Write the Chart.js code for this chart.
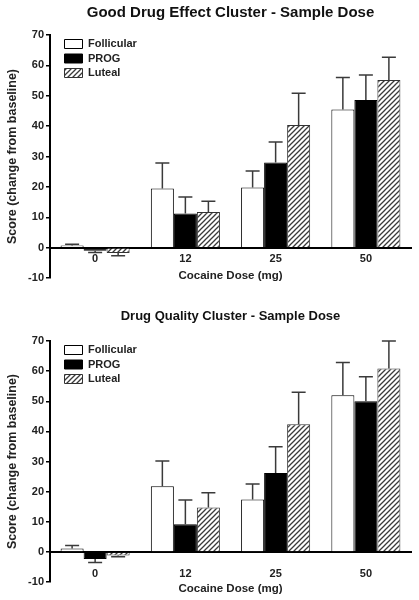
<!DOCTYPE html>
<html>
<head>
<meta charset="utf-8">
<script src="https://cdn.jsdelivr.net/npm/chart.js@4.4.1/dist/chart.umd.min.js"></script>
<style>
	body { margin: 0; background: #fff; }
	canvas { display: block; }
</style>
</head>
<body>
<canvas id="chart-effect" width="419" height="300"></canvas>
<canvas id="chart-quality" width="419" height="300"></canvas>
<script>
const doses = ['0', '12', '25', '50']
const groups = ['Follicular', 'PROG', 'Luteal']
const yTicks = [-10, 0, 10, 20, 30, 40, 50, 60, 70]

// Good Drug Effect cluster (mean, SEM)
const effectFollicular = [0.7, 19.5, 19.8, 45.5]
const effectFollicularSem = [0.4, 8.4, 5.4, 10.5]
const effectProg = [-1.0, 11.2, 28.0, 48.6]
const effectProgSem = [0.6, 5.5, 6.8, 8.2]
const effectLuteal = [-1.8, 11.7, 40.4, 55.2]
const effectLutealSem = [0.9, 3.6, 10.4, 7.5]

// Drug Quality cluster (mean, SEM)
const qualityFollicular = [1.1, 21.8, 17.4, 52.0]
const qualityFollicularSem = [1.0, 8.4, 5.1, 10.9]
const qualityProg = [-2.4, 9.2, 26.2, 50.0]
const qualityProgSem = [1.1, 8.0, 8.7, 8.1]
const qualityLuteal = [-1.2, 14.7, 42.4, 60.9]
const qualityLutealSem = [0.4, 4.9, 10.6, 9.1]

Chart.defaults.font.family = "'Liberation Sans', Arial, sans-serif"
Chart.defaults.color = '#1a1a1a'

function hatch() {
	const c = document.createElement('canvas')
	c.width = 5
	c.height = 5
	const g = c.getContext('2d')
	g.fillStyle = '#fff'
	g.fillRect(0, 0, 5, 5)
	g.strokeStyle = '#3a3a3a'
	g.lineWidth = 1.3
	g.beginPath()
	g.moveTo(-1, 6)
	g.lineTo(6, -1)
	g.moveTo(-1, 1)
	g.lineTo(1, -1)
	g.moveTo(4, 6)
	g.lineTo(6, 4)
	g.stroke()
	return g.createPattern(c, 'repeat')
}

const errorBars = {
	id: 'errorBars',
	afterDatasetsDraw(chart) {
		const ctx = chart.ctx
		const yScale = chart.scales.y
		ctx.save()
		ctx.strokeStyle = '#3a3a3a'
		ctx.lineWidth = 1.5
		chart.data.datasets.forEach((ds, i) => {
			const meta = chart.getDatasetMeta(i)
			meta.data.forEach((bar, j) => {
				const value = ds.data[j]
				const sem = ds.sem[j]
				const tip = yScale.getPixelForValue(value < 0 ? value - sem : value + sem)
				ctx.beginPath()
				ctx.moveTo(bar.x, bar.y)
				ctx.lineTo(bar.x, tip)
				ctx.moveTo(bar.x - 7, tip)
				ctx.lineTo(bar.x + 7, tip)
				ctx.stroke()
			})
		})
		ctx.restore()
	},
}

// legend in the chart area: put it at the top-left corner of the plot
const legendShift = {
	id: 'legendShift',
	afterLayout(chart, args, opts) {
		chart.legend.left = chart.chartArea.left + opts.x
		chart.legend.top = chart.chartArea.top + opts.y
	},
}

function makeChart(id, c) {
	new Chart(document.getElementById(id), {
		type: 'bar',
		data: {
			labels: doses,
			datasets: [
				{
					label: groups[0],
					data: c.follicular,
					sem: c.follicularSem,
					backgroundColor: '#fff',
					borderColor: '#000',
					borderWidth: 1,
				},
				{
					label: groups[1],
					data: c.prog,
					sem: c.progSem,
					backgroundColor: '#000',
					borderColor: '#000',
					borderWidth: 1,
				},
				{
					label: groups[2],
					data: c.luteal,
					sem: c.lutealSem,
					backgroundColor: hatch(),
					borderColor: '#333',
					borderWidth: 1,
				},
			],
		},
		options: {
			responsive: false,
			animation: false,
			categoryPercentage: 0.765,
			barPercentage: 1,
			layout: {
				padding: { left: 0, right: 8, top: 0, bottom: c.padBottom },
			},
			scales: {
				x: {
					position: { y: 0 },
					grid: { display: false, drawTicks: false },
					border: { color: '#000', width: 2 },
					ticks: { color: '#222', font: { size: 11, weight: 'bold' }, padding: c.labelPad },
					title: {
						display: true,
						text: 'Cocaine Dose (mg)',
						color: '#222',
						font: { size: 11.5, weight: 'bold' },
						padding: { top: 0, bottom: c.xTitlePad },
					},
					afterFit: scale => {
						scale.height = c.axisHeight
					},
				},
				y: {
					min: yTicks[0],
					max: yTicks[yTicks.length - 1],
					ticks: { stepSize: yTicks[1] - yTicks[0], color: '#222', font: { size: 11, weight: 'bold' }, padding: 2 },
					grid: { drawOnChartArea: false, drawTicks: true, tickLength: 4, color: '#000', lineWidth: 1.5 },
					border: { color: '#000', width: 2 },
					title: {
						display: true,
						text: 'Score (change from baseline)',
						color: '#222',
						font: { size: 12.5, weight: 'bold' },
						padding: { top: 5, bottom: 2 },
					},
					afterFit: scale => {
						scale.width = 50
					},
				},
			},
			plugins: {
				title: {
					display: true,
					text: c.title,
					color: '#111',
					fullSize: false,
					font: { size: c.titleSize, weight: 'bold' },
					padding: { top: c.titleTop, bottom: c.titleBottom },
				},
				legend: {
					position: 'chartArea',
					align: 'start',
					labels: {
						boxWidth: 18,
						boxHeight: 9,
						padding: 3.5,
						color: '#222',
						font: { size: 11, weight: 'bold' },
					},
				},
				legendShift: { x: 11, y: 0 },
				tooltip: { enabled: false },
			},
		},
		plugins: [errorBars, legendShift],
	})
}

makeChart('chart-effect', {
	title: 'Good Drug Effect Cluster - Sample Dose',
	titleSize: 15,
	titleTop: 4,
	titleBottom: 13,
	padBottom: 22,
	axisHeight: 40,
	labelPad: 5,
	xTitlePad: 5,
	follicular: effectFollicular,
	follicularSem: effectFollicularSem,
	prog: effectProg,
	progSem: effectProgSem,
	luteal: effectLuteal,
	lutealSem: effectLutealSem,
})

makeChart('chart-quality', {
	title: 'Drug Quality Cluster - Sample Dose',
	titleSize: 13,
	titleTop: 9,
	titleBottom: 16.4,
	padBottom: 18,
	axisHeight: 48,
	labelPad: 15.5,
	xTitlePad: 4,
	follicular: qualityFollicular,
	follicularSem: qualityFollicularSem,
	prog: qualityProg,
	progSem: qualityProgSem,
	luteal: qualityLuteal,
	lutealSem: qualityLutealSem,
})
</script>
</body>
</html>
